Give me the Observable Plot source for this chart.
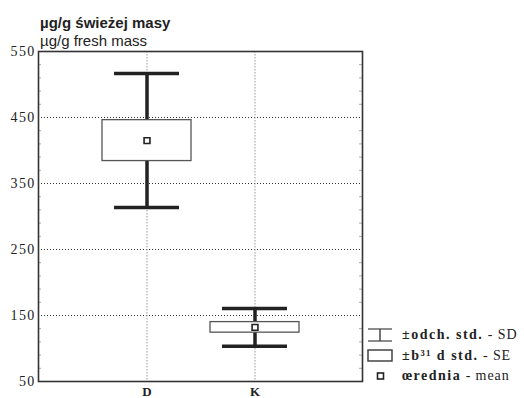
<!DOCTYPE html>
<html>
<head>
<meta charset="utf-8">
<script src="https://cdn.jsdelivr.net/npm/d3@7"></script>
<script src="https://cdn.jsdelivr.net/npm/@observablehq/plot@0.6"></script>
<style>
  html, body { margin: 0; padding: 0; background: #fff; }
  #wrap { position: relative; width: 524px; height: 398px; overflow: hidden; }
  #chart { position: absolute; left: 0; top: 0; }
  #chart g[aria-label="y-axis tick label"] text { letter-spacing: 1.3px; }
  .title { position: absolute; left: 40px; font-family: "Liberation Sans", Arial, sans-serif; color: #222; white-space: nowrap; }
  .leg { position: absolute; left: 402px; font-family: "Liberation Serif", "Times New Roman", serif; font-size: 14px; color: #222; white-space: nowrap; line-height: 1; }
  .leg b { letter-spacing: 1.5px; }
  .leg span { letter-spacing: 0.9px; }
  .sym { position: absolute; }
</style>
</head>
<body>
<div id="wrap">
  <div id="chart"></div>
  <div class="title" style="top:14px;font-size:15px;font-weight:bold;">µg/g świeżej masy</div>
  <div class="title" style="top:32px;font-size:15px;">µg/g fresh mass</div>
</div>
<script>
// ---- data ----
const categories = ["D", "K"];
const means = [415, 132];
const sdValues = [101.5, 28.5];
const seValues = [31, 8];
const yTicks = [50, 150, 250, 350, 450, 550];
const gridValues = [150, 250, 350, 450];
const minorTicks = [70, 90, 110, 130, 170, 190, 210, 230, 270, 290, 310, 330, 370, 390, 410, 430, 470, 490, 510, 530];
const legendLabels = [
  ["±odch. std.", " - SD"],
  ["±b³¹ d std.", " - SE"],
  ["œrednia", " - mean"]
];

const rows = categories.map((c, i) => ({c, mean: means[i], sd: sdValues[i], se: seValues[i]}));

const W = 524, H = 398;
const mL = 38, mR = 162, mT = 51, mB = 17;
const inner = W - mL - mR;

const chart = Plot.plot({
  width: W,
  height: H,
  marginLeft: mL,
  marginRight: mR,
  marginTop: mT,
  marginBottom: mB,
  style: {fontFamily: "Liberation Serif, serif", color: "#222", background: "transparent"},
  x: {domain: categories, paddingInner: 0.18, paddingOuter: 0.59, axis: null, label: null},
  y: {domain: [50, 550], axis: null, label: null},
  marks: [
    Plot.ruleY(gridValues, {stroke: "#333", strokeWidth: 1, strokeDasharray: "1,2"}),
    Plot.ruleX(categories, {x: d => d, stroke: "#999", strokeWidth: 1, strokeDasharray: "1.5,1.5"}),
    Plot.tickY(minorTicks, {y: d => d, insetRight: inner - 3, stroke: "#aaa"}),
    Plot.tickY(minorTicks, {y: d => d, insetLeft: inner - 3, stroke: "#aaa"}),
    Plot.ruleX(rows, {x: "c", y1: d => d.mean - d.sd, y2: d => d.mean + d.sd, stroke: "#222", strokeWidth: 3.5}),
    Plot.tickY(rows, {x: "c", y: d => d.mean + d.sd, insetLeft: 12, insetRight: 12, stroke: "#222", strokeWidth: 3.5}),
    Plot.tickY(rows, {x: "c", y: d => d.mean - d.sd, insetLeft: 12, insetRight: 12, stroke: "#222", strokeWidth: 3.5}),
    Plot.barY(rows, {x: "c", y1: d => d.mean - d.se, y2: d => d.mean + d.se, fill: "white", stroke: "#555", strokeWidth: 1.3}),
    Plot.dot(rows, {x: "c", y: "mean", symbol: "square", r: 3.3, fill: "white", stroke: "#222", strokeWidth: 1.6}),
    Plot.frame({stroke: "#333", strokeWidth: 1.6}),
    Plot.axisY({ticks: yTicks, tickSize: 0, tickPadding: 3, fontSize: 14, fontFamily: "Liberation Serif, serif", fill: "#222", label: null}),
    Plot.axisX({tickSize: 0, tickPadding: 5, fontSize: 13, fontWeight: "bold", fontFamily: "Liberation Serif, serif", fill: "#222", label: null})
  ]
});
document.getElementById("chart").appendChild(chart);

// ---- legend ----
const wrap = document.getElementById("wrap");
const rowCenters = [335, 355.5, 376];
legendLabels.forEach((lab, i) => {
  const d = document.createElement("div");
  d.className = "leg";
  d.style.top = (rowCenters[i] - 7) + "px";
  const b = document.createElement("b"); b.textContent = lab[0];
  const s = document.createElement("span"); s.textContent = lab[1];
  d.appendChild(b); d.appendChild(s);
  wrap.appendChild(d);
});
const sym = d3.select(wrap).append("svg").attr("class", "sym")
  .style("left", "0px").style("top", "0px").attr("width", W).attr("height", H)
  .style("pointer-events", "none");
// SD symbol (I-beam)
const c0 = rowCenters[0];
sym.append("line").attr("x1", 368).attr("x2", 392).attr("y1", c0 - 6).attr("y2", c0 - 6).attr("stroke", "#666").attr("stroke-width", 1.5);
sym.append("line").attr("x1", 368).attr("x2", 392).attr("y1", c0 + 6).attr("y2", c0 + 6).attr("stroke", "#666").attr("stroke-width", 1.5);
sym.append("line").attr("x1", 380).attr("x2", 380).attr("y1", c0 - 6).attr("y2", c0 + 6).attr("stroke", "#444").attr("stroke-width", 1.5);
// SE symbol (box)
const c1 = rowCenters[1];
sym.append("rect").attr("x", 368).attr("y", c1 - 5.5).attr("width", 24).attr("height", 11).attr("fill", "white").attr("stroke", "#444").attr("stroke-width", 1.5);
// mean symbol
const c2 = rowCenters[2];
sym.append("rect").attr("x", 377.5).attr("y", c2 - 3).attr("width", 6).attr("height", 6).attr("fill", "white").attr("stroke", "#222").attr("stroke-width", 1.6);
</script>
</body>
</html>
